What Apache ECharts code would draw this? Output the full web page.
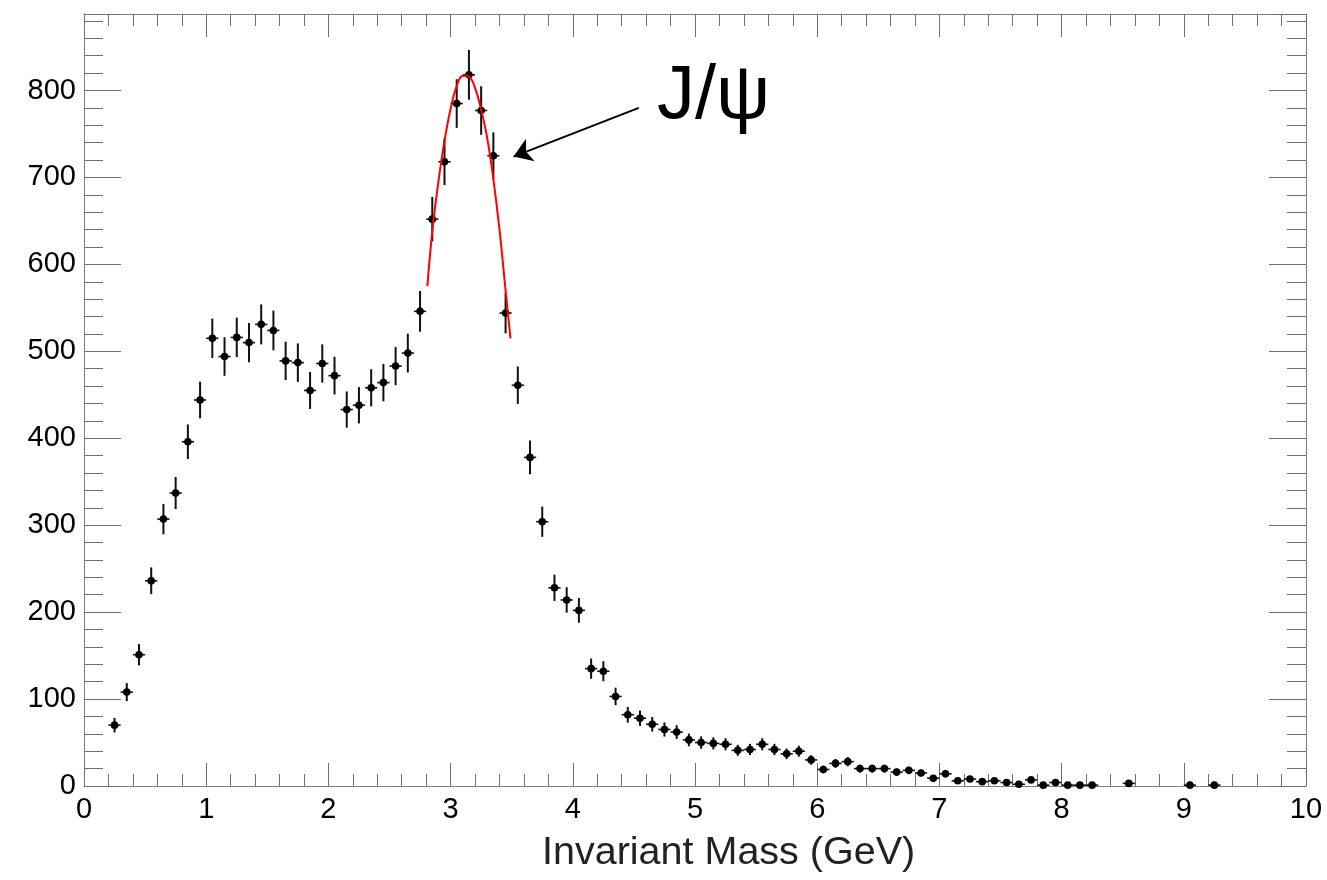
<!DOCTYPE html>
<html>
<head>
<meta charset="utf-8">
<script src="https://cdn.jsdelivr.net/npm/echarts@6/dist/echarts.min.js"></script>
<style>html,body{margin:0;padding:0;background:#fff}#c{width:1327px;height:880px}</style>
</head>
<body>
<div id="c"></div>
<script>
// Bin centres (GeV)
const massBins = [
  0.25,0.35,0.45,0.55,0.65,0.75,0.85,0.95,1.05,1.15,1.25,1.35,1.45,1.55,1.65,1.75,1.85,1.95,
  2.05,2.15,2.25,2.35,2.45,2.55,2.65,2.75,2.85,2.95,3.05,3.15,3.25,3.35,3.45,3.55,3.65,3.75,3.85,3.95,
  4.05,4.15,4.25,4.35,4.45,4.55,4.65,4.75,4.85,4.95,5.05,5.15,5.25,5.35,5.45,5.55,5.65,5.75,5.85,5.95,
  6.05,6.15,6.25,6.35,6.45,6.55,6.65,6.75,6.85,6.95,7.05,7.15,7.25,7.35,7.45,7.55,7.65,7.75,7.85,7.95,
  8.05,8.15,8.25,8.55,9.05,9.25
];
// Entries per bin
const counts = [
  70,108,151,236,307,337,396,444,515,494,516,510,531,524,489,487,455,486,
  472,433,438,458,464,483,498,546,652,718,785,818,777,725,544,461,378,304,228,214,
  202,135,132,103,82,78,71,65,62,53,50,49,48,41,42,48,42,37,40,30,
  19,26,28,20,20,20,16,18,15,9,14,6,8,5,6,4,2,7,1,4,
  1,1,1,3,1,1
];
// Vertical error bar half-lengths
const errors = [
  8.4,10.4,12.3,15.4,17.5,18.4,19.9,21.1,22.7,22.2,22.7,22.6,23.0,22.9,22.1,22.1,21.3,22.0,
  21.7,20.8,20.9,21.4,21.5,22.0,22.3,23.4,25.5,26.8,28.0,28.6,27.9,26.9,23.3,21.5,19.4,17.4,15.1,14.6,
  14.2,11.6,11.5,10.1,9.1,8.8,8.4,8.1,7.9,7.3,7.1,7.0,6.9,6.4,6.5,6.9,6.5,6.1,6.3,5.5,
  4.4,5.1,5.3,4.5,4.5,4.5,4.0,4.2,3.9,3.0,3.7,2.4,2.8,2.2,2.4,2.0,1.4,2.6,1.0,2.0,
  1.0,1.0,1.0,1.7,1.0,1.0
];
const binHalfWidth = 0.05;
// Fit curve
const fitX = [2.81,2.85,2.90,2.95,3.00,3.05,3.10,3.15,3.20,3.25,3.30,3.35,3.40,3.45,3.49];
const fitY = [575,638,695,742,779,805,817,816,803,778,745,698,640,570,515];
// Axis ticks
const xTicks = {min:0, max:10, interval:1};
const yTicks = {min:0, max:888, interval:100};

const FONT = "'Liberation Sans', Arial, Helvetica, sans-serif";
const chart = echarts.init(document.getElementById('c'), null, {renderer:'canvas'});

const pts = massBins.map((x,i)=>[x, counts[i], errors[i]]);
const fit = fitX.map((x,i)=>[x, fitY[i]]);

const axisCommon = {
  axisLine:{show:true, onZero:false, lineStyle:{color:'#808080', width:1}},
  splitLine:{show:false},
};
function xAx(pos, labels){
  return Object.assign({}, axisCommon, {
    type:'value', position:pos, min:xTicks.min, max:xTicks.max, interval:xTicks.interval,
    axisTick:{show:true, inside:true, length:23, lineStyle:{color:'#707070', width:1}},
    minorTick:{show:true, splitNumber:5, length:12, lineStyle:{color:'#707070', width:1}},
    axisLabel:{show:labels, color:'#000', fontSize:29, fontFamily:FONT, margin:9},
  });
}
function yAx(pos, labels){
  return Object.assign({}, axisCommon, {
    type:'value', position:pos, min:yTicks.min, max:yTicks.max, interval:yTicks.interval,
    axisTick:{show:true, inside:true, length:37, lineStyle:{color:'#707070', width:1}},
    minorTick:{show:true, splitNumber:5, length:19, lineStyle:{color:'#707070', width:1}},
    axisLabel:{show:labels, color:'#000', fontSize:29, fontFamily:FONT, margin:8,
      showMaxLabel:false},
  });
}

chart.setOption({
  animation:false,
  backgroundColor:'#fff',
  grid:{left:84, right:21, top:14, bottom:94, containLabel:false},
  xAxis:[xAx('bottom', true), xAx('top', false)],
  yAxis:[yAx('left', true), yAx('right', false)],
  series:[
    {
      type:'custom',
      name:'data',
      xAxisIndex:0, yAxisIndex:0,
      clip:false,
      data:pts,
      encode:{x:0, y:1},
      renderItem:function(params, api){
        const x = api.value(0), y = api.value(1), e = api.value(2);
        const c = api.coord([x,y]);
        const t = api.coord([x,y+e]);
        const b = api.coord([x,Math.max(0,y-e)]);
        const l = api.coord([x-binHalfWidth,y]);
        const r = api.coord([x+binHalfWidth,y]);
        return {type:'group', children:[
          {type:'line', shape:{x1:t[0],y1:t[1],x2:b[0],y2:b[1]}, style:{stroke:'#111', lineWidth:2}},
          {type:'line', shape:{x1:l[0],y1:l[1],x2:r[0],y2:r[1]}, style:{stroke:'#111', lineWidth:1.6}},
          {type:'circle', shape:{cx:c[0],cy:c[1],r:3.8}, style:{fill:'#000'}}
        ]};
      },
      z:3
    },
    {
      type:'line',
      name:'fit',
      data:fit,
      smooth:0.4,
      showSymbol:false,
      symbol:'none',
      lineStyle:{color:'#ff0000', width:2},
      z:4,
      markLine:{
        silent:true,
        symbol:['none','arrow'],
        symbolSize:18,
        label:{show:false},
        lineStyle:{color:'#000', width:2, type:'solid'},
        data:[[{coord:[4.54,780]},{coord:[3.515,724]}]]
      }
    }
  ],
  graphic:[
    {type:'text', x:657, y:97, style:{text:'J/ψ', font:'76px '+FONT, fill:'#000', verticalAlign:'middle'}},
    {type:'text', x:542, y:853, style:{text:'Invariant Mass (GeV)', font:'39.5px '+FONT, fill:'#222', verticalAlign:'middle'}}
  ]
});
</script>
</body>
</html>
